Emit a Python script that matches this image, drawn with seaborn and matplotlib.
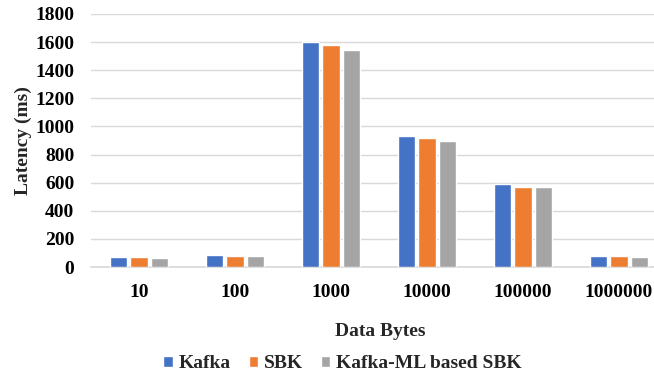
import pandas as pd
import matplotlib
matplotlib.use('Agg')
import matplotlib.pyplot as plt
import seaborn as sns

# --- data ---
data_bytes = ['10', '100', '1000', '10000', '100000', '1000000']
kafka = [70, 83, 1600, 929, 590, 76]
sbk = [70, 78, 1580, 918, 568, 76]
kafka_ml_sbk = [65, 78, 1545, 897, 568, 69]
series_names = ['Kafka', 'SBK', 'Kafka-ML based SBK']
colors = ['#4472C4', '#ED7D31', '#A5A5A5']

df = pd.DataFrame({
    'Data Bytes': data_bytes * 3,
    'Latency': kafka + sbk + kafka_ml_sbk,
    'System': [s for s in series_names for _ in data_bytes],
})

sns.set_theme(style='white')
plt.rcParams['font.family'] = ['Liberation Serif', 'DejaVu Serif']
plt.rcParams['font.weight'] = 'bold'
fs = 14

fig = plt.figure(figsize=(6.54, 3.76), dpi=100)
ax = fig.add_axes([91 / 654, 1 - 267 / 376, 1 - 91 / 654, (267 - 14) / 376])

sns.barplot(data=df, x='Data Bytes', y='Latency', hue='System',
            palette=colors, saturation=1, width=0.63, gap=0.15, ax=ax, zorder=3)

ax.set_ylim(0, 1800)
ax.set_yticks(range(0, 1801, 200))
ax.set_xlim(-0.5, 5.5 - 13 / 96)
ax.grid(axis='y', color='#D9D9D9', linewidth=1, zorder=0)
ax.set_axisbelow(True)
for s in ['top', 'right', 'left']:
    ax.spines[s].set_visible(False)
ax.spines['bottom'].set_color('#D9D9D9')
ax.tick_params(axis='both', length=0, labelsize=fs, colors='black')
ax.tick_params(axis='x', pad=12)
ax.tick_params(axis='y', pad=12)
for lbl in ax.get_xticklabels() + ax.get_yticklabels():
    lbl.set_fontweight('bold')

ax.set_xlabel('Data Bytes', fontsize=fs, fontweight='bold', labelpad=16)
ax.xaxis.label.set_x(0.513)
ax.set_ylabel('Latency (ms)', fontsize=fs, fontweight='bold', labelpad=2)

ax.legend(loc='upper center', bbox_to_anchor=(0.447, -0.28), ncol=3, frameon=False,
          prop={'size': fs, 'weight': 'bold'}, handlelength=0.5, handleheight=0.5,
          handletextpad=0.3, columnspacing=0.9)

fig.savefig('out.png', dpi=100)
